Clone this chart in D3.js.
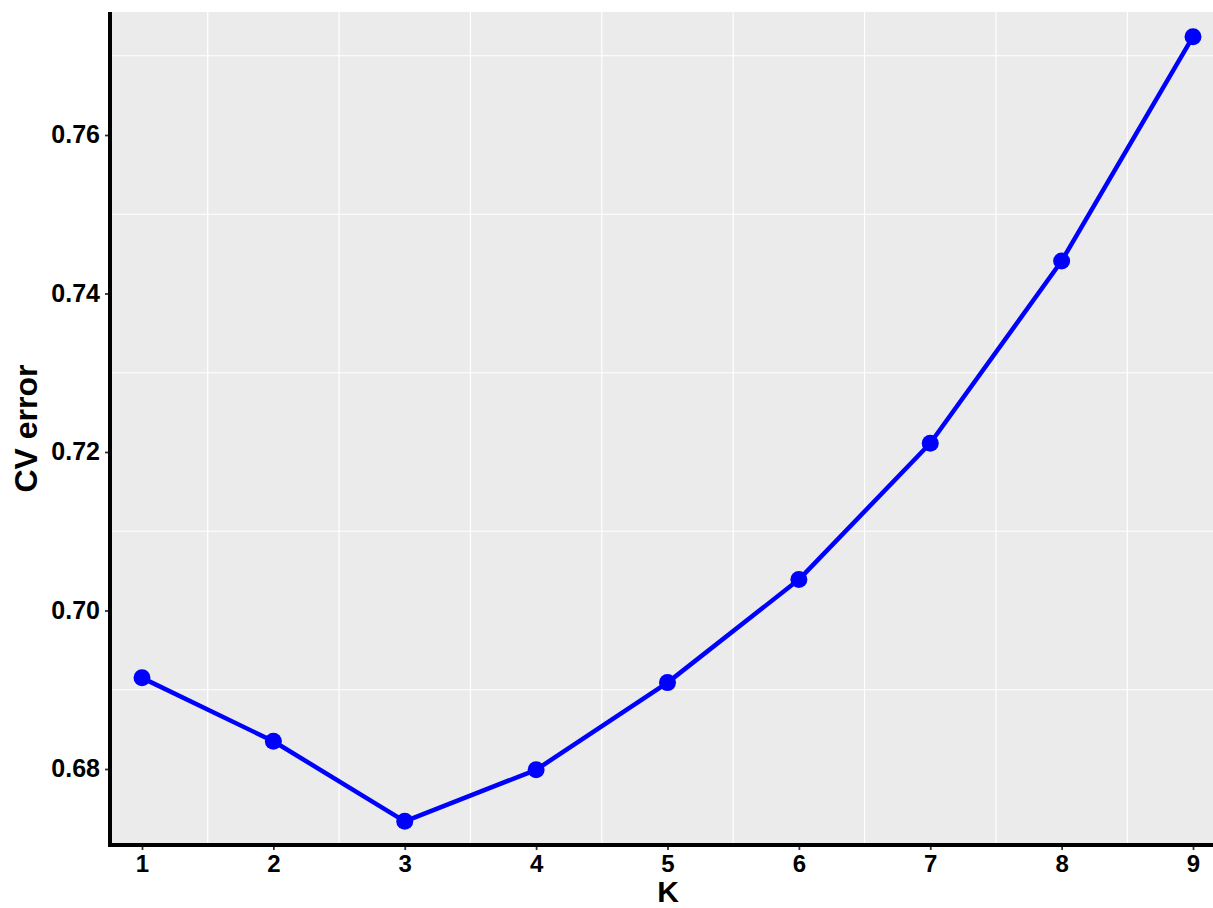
<!DOCTYPE html>
<html>
<head>
<meta charset="utf-8">
<script src="https://cdn.jsdelivr.net/npm/d3@7"></script>
<style>
  html, body { margin: 0; padding: 0; background: #ffffff; }
  svg { display: block; }
  text { font-family: "Liberation Sans", Arial, sans-serif; font-weight: bold; }
</style>
</head>
<body>
<svg id="chart" width="1213" height="908"></svg>
<script>
// Cross-validation error for each number of ancestral clusters K
const kValues = [1, 2, 3, 4, 5, 6, 7, 8, 9];
const cvError = [0.6915, 0.6835, 0.6734, 0.6799, 0.6909, 0.7039, 0.7211, 0.7441, 0.7724];

const xTicks = [1, 2, 3, 4, 5, 6, 7, 8, 9];
const xMinorGrid = [1.5, 2.5, 3.5, 4.5, 5.5, 6.5, 7.5, 8.5];
const yTicks = [0.68, 0.70, 0.72, 0.74, 0.76];
const yMinorGrid = [0.69, 0.71, 0.73, 0.75, 0.77];

const xDomain = [0.7564, 9.1522];
const yDomain = [0.67041, 0.77552];

const width = 1213, height = 908;
const margin = { top: 12, right: 0, bottom: 63, left: 110 };

const svg = d3.select("#chart");

const x = d3.scaleLinear().domain(xDomain).range([margin.left, width - margin.right]);
const y = d3.scaleLinear().domain(yDomain).range([height - margin.bottom, margin.top]);

// panel background
svg.append("rect")
  .attr("x", x(xDomain[0]))
  .attr("y", y(yDomain[1]))
  .attr("width", x(xDomain[1]) - x(xDomain[0]))
  .attr("height", y(yDomain[0]) - y(yDomain[1]))
  .attr("fill", "#EBEBEB");

// grid lines (minor positions only)
const grid = svg.append("g").attr("stroke", "#ffffff").attr("stroke-width", 1.2);
grid.selectAll("line.v").data(xMinorGrid).join("line")
  .attr("x1", d => x(d)).attr("x2", d => x(d))
  .attr("y1", y(yDomain[0])).attr("y2", y(yDomain[1]));
grid.selectAll("line.h").data(yMinorGrid.filter(v => v <= yDomain[1])).join("line")
  .attr("y1", d => y(d)).attr("y2", d => y(d))
  .attr("x1", x(xDomain[0])).attr("x2", x(xDomain[1]));

// data line and points
const data = kValues.map((k, i) => ({ k, v: cvError[i] }));
svg.append("path")
  .datum(data)
  .attr("fill", "none")
  .attr("stroke", "#0000FF")
  .attr("stroke-width", 4.5)
  .attr("stroke-linejoin", "round")
  .attr("d", d3.line().x(d => x(d.k)).y(d => y(d.v)));

svg.selectAll("circle.pt").data(data).join("circle")
  .attr("class", "pt")
  .attr("cx", d => x(d.k))
  .attr("cy", d => y(d.v))
  .attr("r", 8.5)
  .attr("fill", "#0000FF");

// axes
const xAxis = d3.axisBottom(x).tickValues(xTicks).tickFormat(d3.format("d")).tickSize(5).tickPadding(5);
const yAxis = d3.axisLeft(y).tickValues(yTicks).tickFormat(d3.format(".2f")).tickSize(5).tickPadding(5);

const gx = svg.append("g")
  .attr("transform", `translate(0,${y(yDomain[0])})`)
  .call(xAxis);
const gy = svg.append("g")
  .attr("transform", `translate(${x(xDomain[0])},0)`)
  .call(yAxis);

[gx, gy].forEach(g => {
  g.select(".domain").remove();
  g.selectAll(".tick line").attr("stroke", "#333333").attr("stroke-width", 1.8);
  g.selectAll(".tick text")
    .attr("fill", "#000000")
    .style("font-size", "24px")
    .style("font-weight", "bold");
});
gy.selectAll(".tick text").style("font-size", "25px");
gx.selectAll(".tick line").attr("y1", 2);
gy.selectAll(".tick line").attr("x1", -2);

// axis lines
svg.append("line")
  .attr("x1", x(xDomain[0])).attr("x2", x(xDomain[0]))
  .attr("y1", y(yDomain[1])).attr("y2", y(yDomain[0]) + 2)
  .attr("stroke", "#000000").attr("stroke-width", 4);
svg.append("line")
  .attr("x1", x(xDomain[0]) - 2).attr("x2", x(xDomain[1]))
  .attr("y1", y(yDomain[0])).attr("y2", y(yDomain[0]))
  .attr("stroke", "#000000").attr("stroke-width", 4);

// axis titles
svg.append("text")
  .attr("x", 668)
  .attr("y", 902)
  .attr("text-anchor", "middle")
  .style("font-size", "30px")
  .text("K");

svg.append("text")
  .attr("transform", `translate(37,${(y(yDomain[0]) + y(yDomain[1])) / 2}) rotate(-90)`)
  .attr("text-anchor", "middle")
  .style("font-size", "32px")
  .text("CV error");
</script>
</body>
</html>
